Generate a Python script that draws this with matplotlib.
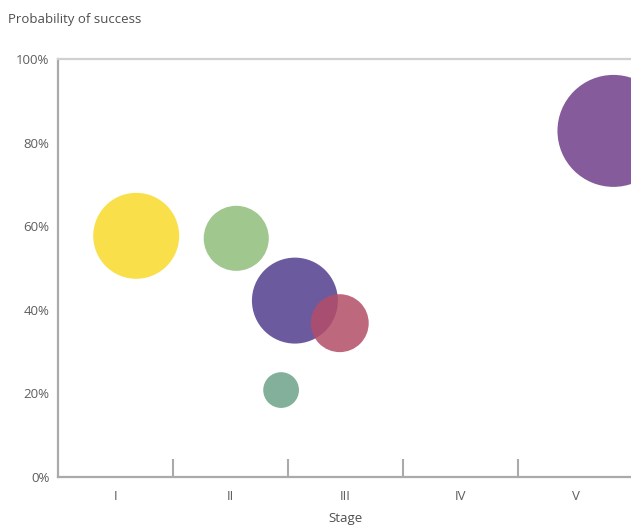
import numpy as np
import matplotlib.pyplot as plt

plt.rcParams['font.family'] = ['Open Sans', 'DejaVu Sans']

# Pipeline bubbles: stage position, probability of success (%), relative size
stage_pos = [1.18, 2.05, 2.56, 2.95, 2.44, 5.33]
success = [57.7, 57.1, 42.2, 36.8, 20.8, 82.8]
value = [18.5, 10.6, 18.5, 8.4, 3.2, 31.4]
colors = ['#f9e04b', '#a0c78e', '#6c5a9e', '#b34d68', '#82b09a', '#865b9b']
alphas = [1.0, 1.0, 1.0, 0.85, 1.0, 1.0]

stage_labels = ['I', 'II', 'III', 'IV', 'V']
y_ticks = [0, 20, 40, 60, 80, 100]

fig = plt.figure(figsize=(6.31, 5.25), dpi=100)
ax = fig.add_axes([58 / 631, 48 / 525, 575 / 631, 418 / 525])

sizes = np.array(value) * 207
for x, y, s, c, a in zip(stage_pos, success, sizes, colors, alphas):
    ax.scatter(x, y, s=s, color=c, alpha=a, edgecolors='none', zorder=3, clip_on=False)

ax.set_xlim(0.5, 5.5)
ax.set_ylim(0, 100)

ax.set_xticks(range(1, 6))
ax.set_xticklabels(stage_labels)
ax.set_xticks([1.5, 2.5, 3.5, 4.5], minor=True)
ax.tick_params(axis='x', which='major', length=0, pad=9, labelsize=9.5, labelcolor='#5e5e5e')
ax.tick_params(axis='x', which='minor', direction='in', length=13, width=1.5, color='#aaaaaa')

ax.set_yticks(y_ticks)
ax.set_yticklabels([f'{v}%' for v in y_ticks])
ax.tick_params(axis='y', length=0, pad=6, labelsize=9.5, labelcolor='#5e5e5e')

for side in ['left', 'bottom']:
    ax.spines[side].set_color('#aaaaaa')
    ax.spines[side].set_linewidth(1.6)
ax.spines['top'].set_color('#d0d0d0')
ax.spines['top'].set_linewidth(1.6)
ax.spines['right'].set_visible(False)

ax.set_xlabel('Stage', fontsize=9.5, color='#4f4f4f', labelpad=7)
fig.text(8 / 631, 1 - 20 / 525, 'Probability of success', fontsize=9.5,
         color='#4f4f4f', ha='left', va='center')

fig.savefig('out.png', dpi=100)
